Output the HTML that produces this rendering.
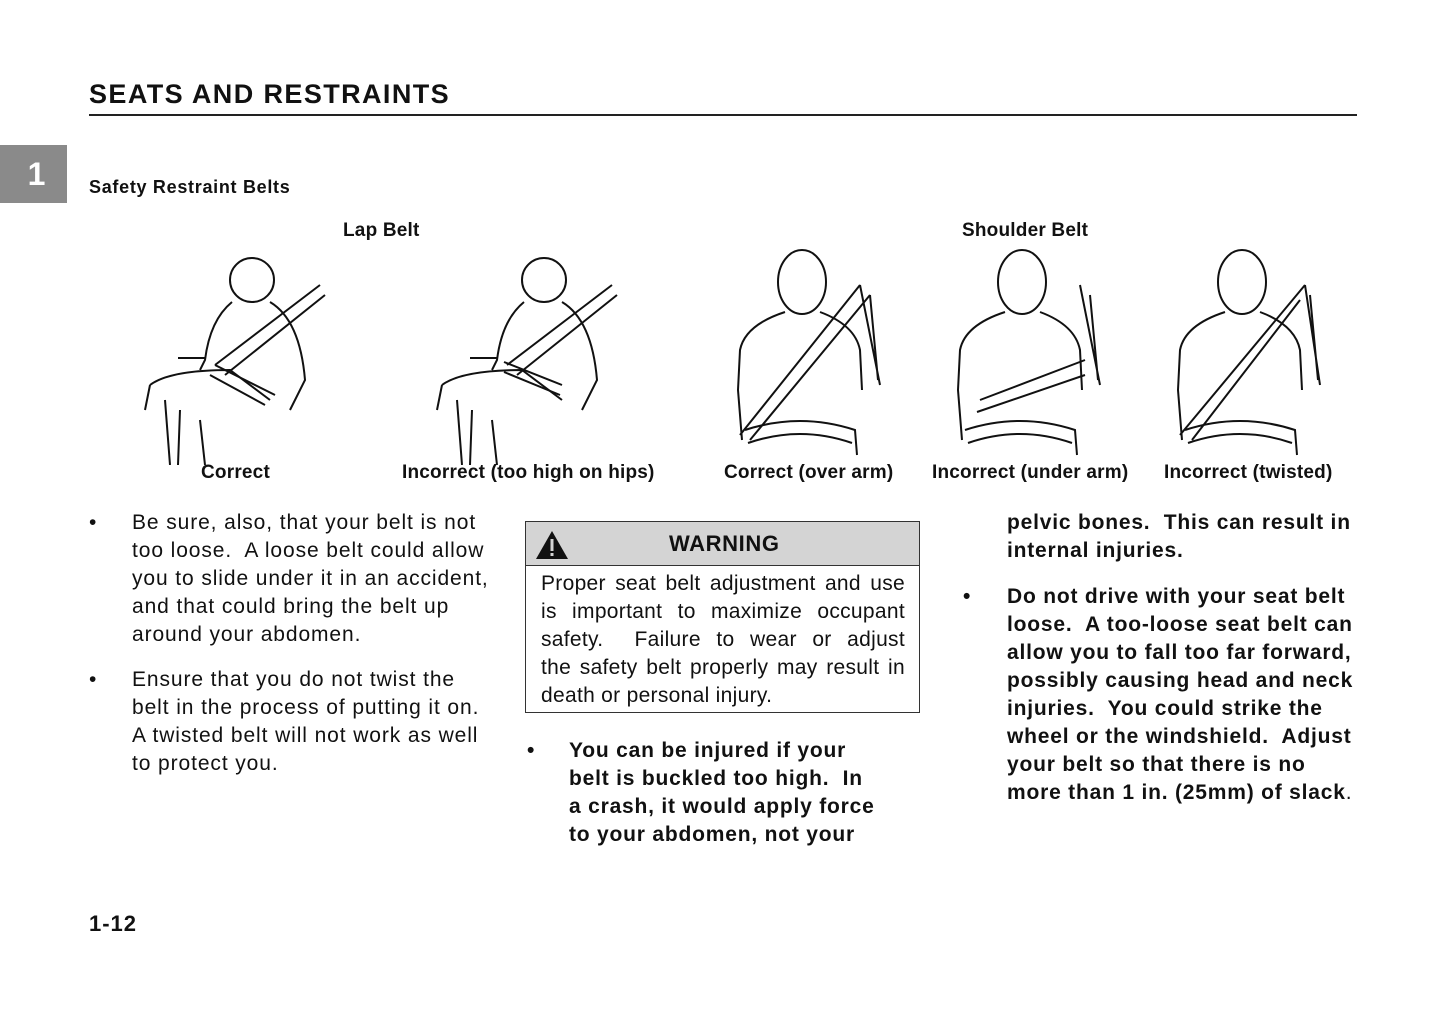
<!DOCTYPE html>
<html><head><meta charset="utf-8"><style>
body{margin:0;width:1445px;height:1019px;background:#fff;position:relative;overflow:hidden;font-family:"Liberation Sans",Arial,sans-serif;color:#111}
.a{position:absolute;white-space:nowrap}
.b{font-weight:bold}
.t{font-size:21px;line-height:28px;letter-spacing:0.9px}
.t.b{letter-spacing:0.8px}
.l{font-size:19px;font-weight:bold;letter-spacing:0.2px}
.j div{text-align:justify;text-align-last:justify;white-space:normal}
.j div.e{text-align-last:left}
</style></head><body>
<div class="a b" style="left:89px;top:79px;font-size:27px;letter-spacing:1.4px">SEATS AND RESTRAINTS</div>
<div class="a" style="left:89px;top:114px;width:1268px;height:2px;background:#222"></div>
<div class="a" style="left:0;top:145px;width:67px;height:58px;background:#8a8a8a;color:#fff;font-size:32px;font-weight:bold;text-align:center;line-height:58px;padding-left:6px;box-sizing:border-box">1</div>
<div class="a b" style="left:89px;top:177px;font-size:18px;letter-spacing:0.7px">Safety Restraint Belts</div>
<div class="a l" style="left:343px;top:220px">Lap Belt</div>
<div class="a l" style="left:962px;top:220px">Shoulder Belt</div>

<svg class="a" style="left:0;top:240px" width="1445" height="225" fill="none" stroke="#111" stroke-width="2">
<g><circle cx="252" cy="40" r="22"/><path d="M232 62 Q210 80 205 120 L200 130 M270 62 Q300 80 305 140 L290 170 M150 145 Q170 130 230 130 L270 160 M150 145 L145 170 M165 160 L170 225 M180 170 L178 225 M200 180 L205 225 M178 118 L205 118"/><path d="M215 125 L320 45 M225 135 L325 55 M210 135 L265 165 M215 125 L275 155"/></g>
<g transform="translate(292,0)"><circle cx="252" cy="40" r="22"/><path d="M232 62 Q210 80 205 120 L200 130 M270 62 Q300 80 305 140 L290 170 M150 145 Q170 130 230 130 L270 160 M150 145 L145 170 M165 160 L170 225 M180 170 L178 225 M200 180 L205 225 M178 118 L205 118"/><path d="M215 125 L320 45 M225 135 L325 55 M212 122 L270 145 M212 132 L268 155"/></g>
<g><ellipse cx="802" cy="42" rx="24" ry="32"/><path d="M785 72 Q745 85 740 110 L738 150 L742 200 M820 72 Q855 85 860 110 L862 150 M745 190 Q800 172 855 190 L857 215 M748 203 Q800 185 852 203"/><path d="M740 195 L860 45 M750 200 L870 55 M860 45 L880 145 M870 55 L878 140"/></g>
<g transform="translate(220,0)"><ellipse cx="802" cy="42" rx="24" ry="32"/><path d="M785 72 Q745 85 740 110 L738 150 L742 200 M820 72 Q855 85 860 110 L862 150 M745 190 Q800 172 855 190 L857 215 M748 203 Q800 185 852 203"/><path d="M760 160 L865 120 M757 172 L865 135 M860 45 L880 145 M870 55 L878 140"/></g>
<g transform="translate(440,0)"><ellipse cx="802" cy="42" rx="24" ry="32"/><path d="M785 72 Q745 85 740 110 L738 150 L742 200 M820 72 Q855 85 860 110 L862 150 M745 190 Q800 172 855 190 L857 215 M748 203 Q800 185 852 203"/><path d="M740 195 L865 45 M752 200 L860 60 M865 45 L880 145 M870 55 L878 140"/></g>
</svg>

<div class="a l" style="left:201px;top:462px">Correct</div>
<div class="a l" style="left:402px;top:462px">Incorrect (too high on hips)</div>
<div class="a l" style="left:724px;top:462px">Correct (over arm)</div>
<div class="a l" style="left:932px;top:462px">Incorrect (under arm)</div>
<div class="a l" style="left:1164px;top:462px">Incorrect (twisted)</div>

<div class="a t" style="left:89px;top:509px">•</div>
<div class="a t" style="left:132px;top:509px">Be sure, also, that your belt is not<br>too loose.&nbsp; A loose belt could allow<br>you to slide under it in an accident,<br>and that could bring the belt up<br>around your abdomen.</div>
<div class="a t" style="left:89px;top:666px">•</div>
<div class="a t" style="left:132px;top:666px">Ensure that you do not twist the<br>belt in the process of putting it on.<br>A twisted belt will not work as well<br>to protect you.</div>

<div class="a" style="left:525px;top:521px;width:393px;height:190px;border:1.5px solid #333"></div>
<div class="a" style="left:526px;top:522px;width:393px;height:43px;background:#d4d4d4;border-bottom:1.5px solid #333"></div>
<svg class="a" style="left:535px;top:530px" width="34" height="30"><polygon points="17,1 33,29 1,29" fill="#111"/><rect x="15.5" y="9" width="3" height="12" fill="#d4d4d4"/><rect x="15.5" y="23" width="3" height="3" fill="#d4d4d4"/></svg>
<div class="a b" style="left:669px;top:531px;font-size:22px;letter-spacing:0.6px">WARNING</div>
<div class="a t j" style="left:541px;top:570px;width:364px;letter-spacing:0.3px">
<div>Proper seat belt adjustment and use</div>
<div>is important to maximize occupant</div>
<div>safety.&nbsp; Failure to wear or adjust</div>
<div>the safety belt properly may result in</div>
<div class="e">death or personal injury.</div>
</div>

<div class="a t b" style="left:527px;top:737px">•</div>
<div class="a t b" style="left:569px;top:737px">You can be injured if your<br>belt is buckled too high.&nbsp; In<br>a crash, it would apply force<br>to your abdomen, not your</div>

<div class="a t b" style="left:1007px;top:509px">pelvic bones.&nbsp; This can result in<br>internal injuries.</div>
<div class="a t b" style="left:963px;top:583px">•</div>
<div class="a t b" style="left:1007px;top:583px">Do not drive with your seat belt<br>loose.&nbsp; A too-loose seat belt can<br>allow you to fall too far forward,<br>possibly causing head and neck<br>injuries.&nbsp; You could strike the<br>wheel or the windshield.&nbsp; Adjust<br>your belt so that there is no<br>more than 1 in. (25mm) of slack<span style="font-weight:normal">.</span></div>

<div class="a b" style="left:89px;top:911px;font-size:22px;letter-spacing:1px">1-12</div>
</body></html>
